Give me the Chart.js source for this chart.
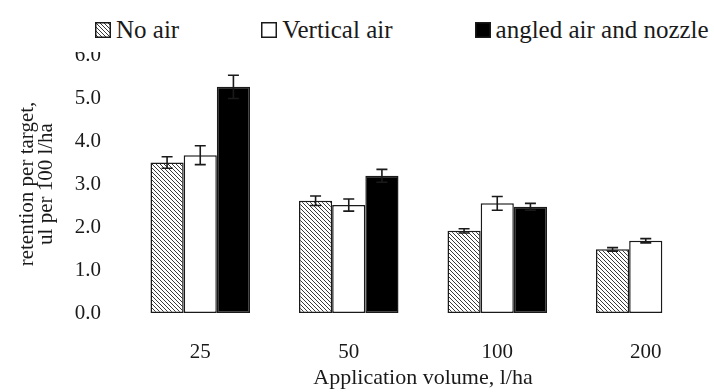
<!DOCTYPE html>
<html>
<head>
<meta charset="utf-8">
<script src="https://cdn.jsdelivr.net/npm/chart.js@4/dist/chart.umd.min.js"></script>
<style>
  html, body { margin: 0; padding: 0; background: #fff; overflow: hidden; }
  #wrap { position: absolute; left: 0; top: 0; width: 720px; height: 392px; }
  #legend {
    position: absolute; left: 0; top: 0; width: 714px; height: 52px; background: #fff;
    display: flex; padding: 18px 0 0 95px; box-sizing: border-box;
    align-items: flex-start; gap: 82px;
    font-family: "Liberation Serif", "Times New Roman", Times, serif;
    font-size: 25px; line-height: 24px; color: #1a1a1a;
  }
  #legend .item { display: flex; align-items: center; white-space: nowrap; }
  #legend canvas { width: 16px; height: 16px; margin-right: 5px; }
</style>
</head>
<body>
<div id="wrap"><canvas id="c"></canvas></div>
<div id="legend"></div>
<script>
const categories = ['25', '50', '100', '200'];
const noAir = [3.50, 2.61, 1.91, 1.48];
const noAirErr = [0.135, 0.11, 0.05, 0.04];
const verticalAir = [3.67, 2.51, 2.55, 1.68];
const verticalAirErr = [0.22, 0.14, 0.16, 0.05];
const angledAir = [5.26, 3.19, 2.47, null];
const angledAirErr = [0.27, 0.15, 0.08, null];
const yTicks = [0, 1, 2, 3, 4, 5, 6];

const serif = '"Liberation Serif", "Times New Roman", serif';
const ink = '#1a1a1a';

function hatch() {
  const t = document.createElement('canvas');
  t.width = 4; t.height = 4;
  const g = t.getContext('2d');
  g.fillStyle = '#fff';
  g.fillRect(0, 0, 4, 4);
  g.strokeStyle = '#3a3a3a';
  g.lineWidth = 1;
  g.beginPath();
  g.moveTo(-1, -1); g.lineTo(5, 5);
  g.moveTo(-1, 3); g.lineTo(1, 5);
  g.moveTo(3, -1); g.lineTo(5, 1);
  g.stroke();
  return g.createPattern(t, 'repeat');
}

const errorBars = {
  id: 'errorBars',
  afterDatasetsDraw(chart) {
    const { ctx } = chart;
    const y = chart.scales.y;
    ctx.save();
    ctx.strokeStyle = ink;
    ctx.lineWidth = 1.6;
    chart.data.datasets.forEach((ds, i) => {
      const meta = chart.getDatasetMeta(i);
      meta.data.forEach((bar, j) => {
        const v = ds.data[j];
        const e = ds.err[j];
        if (v == null || e == null) return;
        const top = y.getPixelForValue(v + e);
        const bot = y.getPixelForValue(v - e);
        const x = bar.x;
        ctx.beginPath();
        ctx.moveTo(x, top); ctx.lineTo(x, bot);
        ctx.moveTo(x - 5.5, top); ctx.lineTo(x + 5.5, top);
        ctx.moveTo(x - 5.5, bot); ctx.lineTo(x + 5.5, bot);
        ctx.stroke();
      });
    });
    ctx.restore();
  }
};

// html legend built from the chart's own legend items
const htmlLegend = {
  id: 'htmlLegend',
  afterUpdate(chart) {
    const box = document.getElementById('legend');
    box.innerHTML = '';
    chart.options.plugins.legend.labels.generateLabels(chart).forEach((item) => {
      const el = document.createElement('div');
      el.className = 'item';
      const sw = document.createElement('canvas');
      sw.width = 16; sw.height = 16;
      const g = sw.getContext('2d');
      g.fillStyle = item.fillStyle;
      g.fillRect(0, 0, 16, 16);
      g.strokeStyle = ink;
      g.lineWidth = 1.5;
      g.strokeRect(0.75, 0.75, 14.5, 14.5);
      const txt = document.createElement('span');
      txt.textContent = item.text;
      el.appendChild(sw);
      el.appendChild(txt);
      box.appendChild(el);
    });
  }
};

const common = { borderColor: ink, borderWidth: 1.5, borderSkipped: false,
  barPercentage: 1, categoryPercentage: 0.67 };

new Chart(document.getElementById('c'), {
  type: 'bar',
  data: {
    labels: categories,
    datasets: [
      Object.assign({ label: 'No air', data: noAir, err: noAirErr, backgroundColor: hatch() }, common),
      Object.assign({ label: 'Vertical air', data: verticalAir, err: verticalAirErr, backgroundColor: '#fff' }, common),
      Object.assign({ label: 'angled air and nozzle', data: angledAir, err: angledAirErr, backgroundColor: '#000' }, common),
    ],
  },
  options: {
    responsive: true,
    maintainAspectRatio: false,
    animation: false,
    layout: { padding: { top: 55, right: 0, left: 0, bottom: 0 } },
    plugins: {
      tooltip: { enabled: false },
      legend: { display: false },
    },
    scales: {
      x: {
        grid: { display: false },
        border: { display: false },
        ticks: { color: ink, font: { family: serif, size: 21 }, padding: 19 },
        title: { display: true, text: 'Application volume, l/ha', color: ink,
          font: { family: serif, size: 22, lineHeight: 1.2 }, padding: { top: 0, bottom: 1 } },
        afterFit(s) { s.height = 79; },
      },
      y: {
        min: 0,
        max: 6,
        grid: { display: false },
        border: { display: false },
        afterBuildTicks(s) { s.ticks = yTicks.map((v) => ({ value: v })); },
        ticks: { color: ink, font: { family: serif, size: 21 }, padding: 17, autoSkip: false,
          callback: (v) => Number(v).toFixed(1) },
        title: { display: true, text: ['retention per target,', 'ul per 100 l/ha'], color: ink,
          font: { family: serif, size: 21, lineHeight: 0.9 }, padding: { top: 18, bottom: 0 } },
        afterFit(s) { s.width = 126; },
      },
    },
  },
  plugins: [errorBars, htmlLegend],
});
</script>
</body>
</html>
